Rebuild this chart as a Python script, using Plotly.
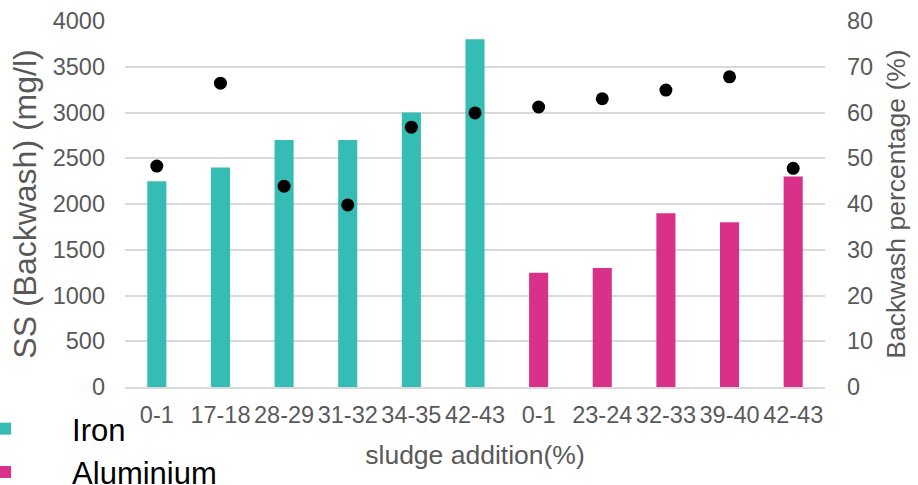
import plotly.graph_objects as go

# Sludge addition ranges (%) for each run
iron_labels = ["0-1", "17-18", "28-29", "31-32", "34-35", "42-43"]
alum_labels = ["0-1", "23-24", "32-33", "39-40", "42-43"]

# Suspended solids in backwash water (mg/l)
iron_ss = [2250, 2400, 2700, 2700, 3000, 3800]
alum_ss = [1250, 1300, 1900, 1800, 2300]

# Backwash percentage (%) for all runs, iron first then aluminium
backwash_pct = [48.3, 66.4, 43.9, 39.8, 56.8, 59.9, 61.2, 63.0, 64.9, 67.8, 47.8]

all_labels = iron_labels + alum_labels
pos = list(range(len(all_labels)))
iron_pos = pos[:len(iron_labels)]
alum_pos = pos[len(iron_labels):]

FONT = "Liberation Sans, Arial, sans-serif"
GREY = "#595959"
GRID = "#D9D9D9"

fig = go.Figure()
fig.add_trace(go.Bar(x=iron_pos, y=iron_ss, name="Iron", width=0.3,
                     marker=dict(color="#35BCB4", line=dict(width=0))))
fig.add_trace(go.Bar(x=alum_pos, y=alum_ss, name="Aluminium", width=0.3,
                     marker=dict(color="#D93189", line=dict(width=0))))
fig.add_trace(go.Scatter(x=pos, y=backwash_pct, mode="markers", yaxis="y2",
                         showlegend=False,
                         marker=dict(color="black", size=13, line=dict(width=0))))

fig.update_layout(
    width=918, height=485,
    margin=dict(l=125, r=93, t=21, b=98, autoexpand=False),
    paper_bgcolor="white", plot_bgcolor="white",
    barmode="overlay",
    font=dict(family=FONT, color=GREY),
    xaxis=dict(
        range=[-0.5, len(all_labels) - 0.5],
        tickmode="array", tickvals=pos, ticktext=all_labels, tickangle=0,
        tickfont=dict(size=23.5, color=GREY),
        showgrid=False, zeroline=False,
        showline=True, linecolor=GRID, linewidth=2,
        ticks="", ticklabelstandoff=6,
        title=dict(text="sludge addition(%)", font=dict(size=26.5, color=GREY), standoff=18),
    ),
    yaxis=dict(
        range=[0, 4000], dtick=500,
        tickfont=dict(size=23.5, color=GREY),
        showgrid=True, gridcolor=GRID, gridwidth=1.5,
        zeroline=False, showline=False, ticks="", ticklabelstandoff=19,
        title=dict(text="SS (Backwash) (mg/l)", font=dict(size=32, color=GREY), standoff=6),
    ),
    yaxis2=dict(
        range=[0, 80], dtick=10, overlaying="y", side="right",
        tickfont=dict(size=23.5, color=GREY),
        showgrid=False, zeroline=False, showline=False, ticks="", ticklabelstandoff=21,
        title=dict(text="Backwash percentage (%)", font=dict(size=26.5, color=GREY), standoff=14),
    ),
    showlegend=True,
    legend=dict(
        orientation="v", x=-0.267, xanchor="left", y=-0.041, yanchor="top",
        itemwidth=124, font=dict(size=31, color="black", family=FONT),
        bgcolor="rgba(0,0,0,0)", borderwidth=0,
    ),
)

fig.write_html("out.html")
